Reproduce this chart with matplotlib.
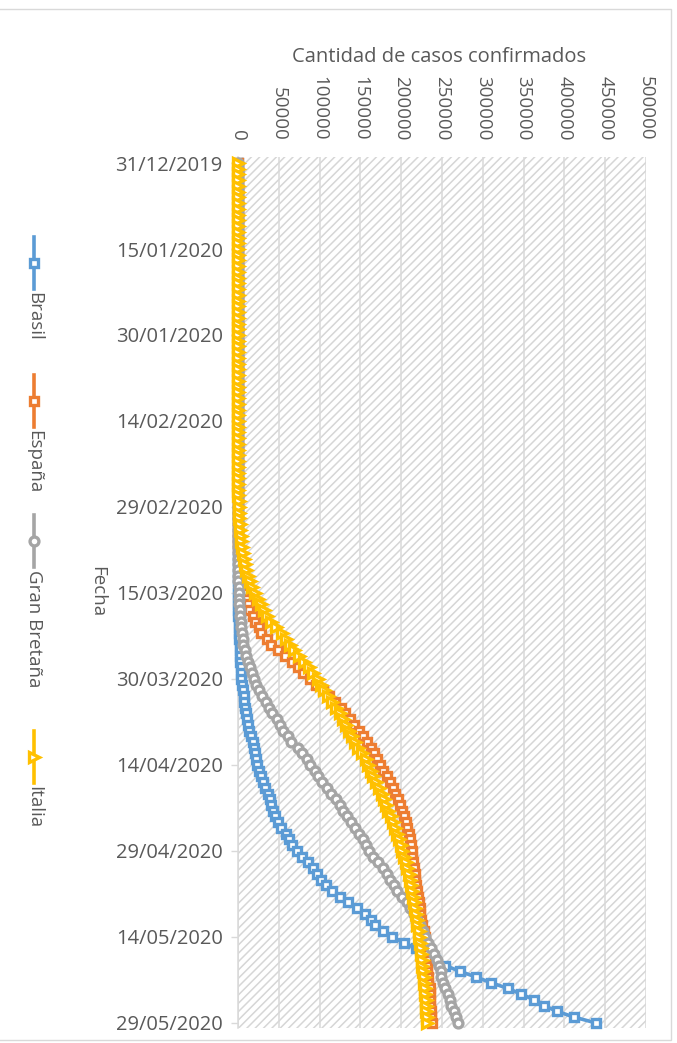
import matplotlib
matplotlib.use("Agg")
import matplotlib.pyplot as plt
from matplotlib.patches import Rectangle
from matplotlib.lines import Line2D
import datetime as dt
import numpy as np

plt.rcParams["font.family"] = ["Open Sans", "DejaVu Sans"]
plt.rcParams["hatch.linewidth"] = 1.1

# ---------------- data ----------------
start_date = dt.date(2019, 12, 31)
date_tick_step = 15
x_ticks = [0, 50000, 100000, 150000, 200000, 250000, 300000, 350000, 400000, 450000, 500000]
x_title = "Cantidad de casos confirmados"
y_title = "Fecha"
series_names = ["Brasil", "España", "Gran Bretaña", "Italia"]

brasil = ([0] * 32 +
          [0] * 25 + [1, 1, 1, 2] +
          [2, 2, 2, 3, 4, 8, 13, 13, 25, 25, 34, 52, 77, 98, 121, 200, 234, 291, 428, 621,
           904, 1128, 1546, 1891, 2201, 2433, 2915, 3417, 3904, 4256, 4579] +
          [5717, 6836, 7910, 9056, 10278, 11130, 12056, 13717, 15927, 17857,
           19638, 20727, 22169, 23430, 25262, 28320, 30425, 33682, 36599, 38654,
           40581, 43079, 45757, 49492, 52995, 58509, 61888, 66501, 71886, 78162] +
          [85380, 91589, 96559, 101147, 107780, 114715, 125218, 135106, 145328, 155939,
           162699, 168331, 177589, 188974, 202918, 218223, 233142, 241080, 254220, 271628,
           291579, 310087, 330890, 347398, 363211, 374898, 391222, 411821, 438238])

espana = ([0] * 32 +
          [1] * 9 + [2] * 15 + [6, 13, 15, 32, 45] +
          [84, 120, 165, 222, 259, 400, 500, 673, 1073, 1695, 2277, 2277, 5232, 6391, 7798,
           9942, 11748, 13910, 17963, 20410, 25374, 28603, 35136, 39885, 49515, 57786, 65719,
           73235, 80110, 87956, 95923] +
          [104118, 112065, 119199, 126168, 131646, 136675, 141942, 148220, 153222, 158273,
           163027, 166831, 170099, 174060, 177633, 182816, 186000, 189500, 192500, 195900,
           198600, 201500, 204000, 205900, 207600, 209200, 210700, 212000, 212900, 213400] +
          [214500, 215200, 216500, 217500, 218300, 219300, 220300, 221300, 222500, 223600,
           224400, 225900, 227400, 228700, 229500, 230200, 230700, 231300, 231700, 232000,
           232600, 233000, 234800, 235300, 235400, 235800, 236300, 237000, 237900])

gran_bretana = ([0] * 32 +
                [2] * 6 + [3] * 3 + [8] + [9] * 15 + [13, 13, 16, 20] +
                [23, 36, 40, 51, 85, 115, 163, 206, 273, 321, 373, 456, 590, 798, 1140, 1391,
                 1543, 1950, 2626, 3269, 3983, 5018, 5683, 6650, 8077, 9529, 11658, 14543,
                 17089, 19522, 22141] +
                [25150, 29474, 33718, 38168, 41903, 47806, 51608, 55242, 60733, 65077,
                 73758, 78991, 84279, 88621, 93873, 98476, 103093, 108692, 114217, 120067,
                 124743, 129044, 133495, 138078, 143464, 148377, 152840, 157149, 161145, 165221] +
                [171253, 177454, 182260, 186599, 190584, 194990, 201101, 206715, 211364, 215260,
                 219183, 223060, 226463, 229705, 233151, 236711, 240161, 243695, 246406, 248818,
                 248293, 250908, 254195, 257154, 259559, 261184, 265227, 267240, 269127])

italia = ([0] * 31 + [2] +
          [2] * 6 + [3] * 15 + [20, 79, 150, 229, 322, 400, 650, 888] +
          [1128, 1694, 2036, 2502, 3089, 3858, 4636, 5883, 7375, 9172, 10149, 12462, 15113,
           17660, 21157, 24747, 27980, 31506, 35713, 41035, 47021, 53578, 59138, 63927,
           69176, 74386, 80539, 86498, 92472, 97689, 101739] +
          [105792, 110574, 115242, 119827, 124632, 128948, 132547, 135586, 139422, 143626,
           147577, 152271, 156363, 159516, 162488, 165155, 168941, 172434, 175925, 178972,
           181228, 183957, 187327, 189973, 192994, 195351, 197675, 199414, 201505, 203591] +
          [205463, 207428, 209328, 210717, 211938, 213013, 214457, 215858, 217185, 218268,
           219070, 219814, 221216, 222104, 223096, 223885, 224760, 225435, 225886, 226699,
           227364, 228006, 228658, 229327, 229858, 230158, 230555, 231139, 231732])

# ---------------- style ----------------
colors = ["#5B9BD5", "#ED7D31", "#A5A5A5", "#FFC000"]
markers = ["s", "s", "o", ">"]
msizes = [5.6, 5.6, 6.4, 6.8]
mew = 2.4
lw = 2.6
text_color = "#595959"
grid_color = "#D9D9D9"

W, H = 677, 1043
fig = plt.figure(figsize=(W / 100, H / 100), dpi=100)

def fx(x):
    return x / W

def fy(y):
    return 1 - y / H

ax_left, ax_right, ax_top, ax_bottom = 238, 646, 157, 1028
ax = fig.add_axes([fx(ax_left), fy(ax_bottom), (ax_right - ax_left) / W, (ax_bottom - ax_top) / H])

n = len(brasil)
days = np.arange(n)

# hatched plot-area background
ax.add_patch(Rectangle((0, 0), 1, 1, transform=ax.transAxes, facecolor="white",
                       edgecolor="#D6D6D6", hatch="////", linewidth=0, zorder=0))

for vals, c, m, ms in zip([brasil, espana, gran_bretana, italia], colors, markers, msizes):
    ax.plot(vals, days, color=c, lw=lw, marker=m, markersize=ms,
            markerfacecolor="white", markeredgecolor=c, markeredgewidth=mew,
            zorder=3, clip_on=False)

ax.set_xlim(x_ticks[0], x_ticks[-1])
ax.set_ylim(n - 1 + 0.9, -1.05)

ax.xaxis.tick_top()
ax.set_xticks(x_ticks)
ax.set_xticklabels([str(v) for v in x_ticks], rotation=-90, ha="center", va="bottom")
ax.tick_params(axis="x", length=0, pad=12, labelsize=13.5, labelcolor=text_color)

ytick_pos = list(range(0, n, date_tick_step))
ytick_lab = [(start_date + dt.timedelta(days=int(d))).strftime("%d/%m/%Y") for d in ytick_pos]
ax.set_yticks(ytick_pos)
ax.set_yticklabels(ytick_lab)
ax.tick_params(axis="y", length=5, width=1, color=grid_color, pad=6,
               labelsize=14.5, labelcolor=text_color)

ax.grid(axis="x", color=grid_color, lw=1.1, zorder=1)
ax.set_axisbelow(True)
for s in ["top", "right", "bottom"]:
    ax.spines[s].set_visible(False)
ax.spines["left"].set_color(grid_color)
ax.spines["left"].set_linewidth(1.1)

# titles
fig.text(fx(439), fy(57), x_title, ha="center", va="center", fontsize=14.5, color=text_color)
fig.text(fx(97), fy(592), y_title, ha="center", va="center", rotation=-90,
         fontsize=13.5, color=text_color)

# legend (rotated)
leg_x = 34
leg_starts = [237, 375, 515, 731]
for name, c, m, ms, y0 in zip(series_names, colors, markers, msizes, leg_starts):
    fig.add_artist(Line2D([fx(leg_x), fx(leg_x)], [fy(y0), fy(y0 + 52)],
                          transform=fig.transFigure, color=c, lw=lw))
    fig.add_artist(Line2D([fx(leg_x)], [fy(y0 + 26)], transform=fig.transFigure,
                          marker=m, markersize=ms, markerfacecolor="white",
                          markeredgecolor=c, markeredgewidth=mew, color=c))
    fig.text(fx(leg_x), fy(y0 + 55), name, rotation=-90, ha="center", va="top",
             fontsize=13.5, color=text_color)

# outer chart border
fig.add_artist(Rectangle((fx(-5), fy(1040)), fx(671 + 5), (1040 - 9) / H,
                         transform=fig.transFigure, fill=False,
                         edgecolor="#D9D9D9", lw=1.0))

fig.savefig("out.png", dpi=100)
